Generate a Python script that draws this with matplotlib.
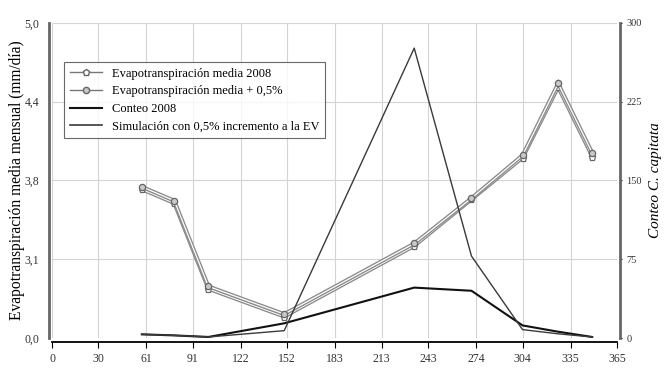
import matplotlib.pyplot as plt
from matplotlib.lines import Line2D

plt.rcParams["font.family"] = ["Liberation Serif", "DejaVu Serif"]

# ------------------------------------------
# Data
# ------------------------------------------

days = [58, 79, 101, 150, 234, 271, 304, 327, 349]

et_2008 = [3.68, 3.57, 2.89, 2.67, 3.23, 3.60, 3.93, 4.49, 3.94]
et_plus = [3.70, 3.59, 2.91, 2.69, 3.25, 3.61, 3.95, 4.52, 3.97]

conteo_2008 = [3.5, 2.5, 1.0, 14.0, 48.0, 45.0, 12.0, 6.0, 1.0]
simulacion = [3.5, 2.5, 1.0, 7.0, 276.0, 78.0, 8.0, 4.0, 1.0]

x_ticks = [0, 30, 61, 91, 122, 152, 183, 213, 243, 274, 304, 335, 365]
y_ticks = [2.5, 3.125, 3.75, 4.375, 5.0]
y_labels = ["0,0", "3,1", "3,8", "4,4", "5,0"]
count_ticks = [0, 75, 150, 225, 300]

labels = [
    "Evapotranspiración media 2008",
    "Evapotranspiración media + 0,5%",
    "Conteo 2008",
    "Simulación con 0,5% incremento a la EV",
]

# ------------------------------------------
# Figure
# ------------------------------------------

fig = plt.figure(figsize=(6.67, 3.76), dpi=100)
ax = fig.add_axes([0.078, 0.101, 0.847, 0.838])

# ET series drawn as a grey double line
for vals, mk, face in [(et_2008, "p", "white"), (et_plus, "o", "#c8c8c8")]:
    ax.plot(days, vals, color="#8a8a8a", lw=2.8, solid_joinstyle="miter")
    ax.plot(days, vals, color="white", lw=0.9)
    ax.plot(days, vals, ls="none", marker=mk, markersize=4.5,
            markerfacecolor=face, markeredgecolor="#666666", markeredgewidth=0.9)

ax.set_xlim(0, 365)
ax.set_ylim(2.5, 5.0)
ax.set_xticks(x_ticks)
ax.set_yticks(y_ticks)
ax.set_yticklabels(y_labels)
ax.grid(True, color="#d4d4d4", lw=0.8)
ax.set_axisbelow(True)

for s in ["top", "right"]:
    ax.spines[s].set_visible(False)
ax.spines["left"].set_position(("outward", 2.2))
ax.spines["left"].set_linewidth(2)
ax.spines["left"].set_color("#666666")
ax.spines["bottom"].set_position(("outward", 3))
ax.spines["bottom"].set_linewidth(1.3)
ax.tick_params(axis="y", length=0, pad=7, labelsize=8.5, labelcolor="#333333")
ax.tick_params(axis="x", length=4, direction="out", labelsize=8.5,
               labelcolor="#333333", pad=4)
ax.set_ylabel("Evapotranspiración media mensual (mm/día)", fontsize=11.2,
              va="center")
ax.yaxis.set_label_coords(-0.062, 0.5)

# Count series on right axis
ax2 = ax.twinx()
ax2.plot(days, conteo_2008, color="#111111", lw=1.5)
ax2.plot(days, simulacion, color="#3a3a3a", lw=1.0)
ax2.set_ylim(0, 300)
ax2.set_yticks(count_ticks)
for s in ["top", "left", "bottom"]:
    ax2.spines[s].set_visible(False)
ax2.spines["right"].set_position(("outward", 2.2))
ax2.spines["right"].set_linewidth(2)
ax2.spines["right"].set_color("#666666")
ax2.tick_params(axis="y", length=1.5, labelsize=7.5, labelcolor="#333333",
                pad=3)
ax2.set_ylabel("Conteo C. capitata", fontsize=11, style="italic",
               va="center")
ax2.yaxis.set_label_coords(1.069, 0.5)

handles = [
    Line2D([], [], color="#777777", lw=1, marker="p", markersize=5,
           markerfacecolor="white", markeredgecolor="#666666"),
    Line2D([], [], color="#777777", lw=1, marker="o", markersize=4.5,
           markerfacecolor="#c8c8c8", markeredgecolor="#666666"),
    Line2D([], [], color="#111111", lw=1.5),
    Line2D([], [], color="#3a3a3a", lw=1.2),
]
leg = ax2.legend(handles, labels, loc="upper left",
                 bbox_to_anchor=(0.021, 0.876), borderaxespad=0,
                 fontsize=9, frameon=True, fancybox=False,
                 handlelength=2.6, handletextpad=0.8, labelspacing=0.45,
                 borderpad=0.45)
leg.get_frame().set_edgecolor("#444444")
leg.get_frame().set_linewidth(0.8)

fig.savefig("out.png", dpi=100)
